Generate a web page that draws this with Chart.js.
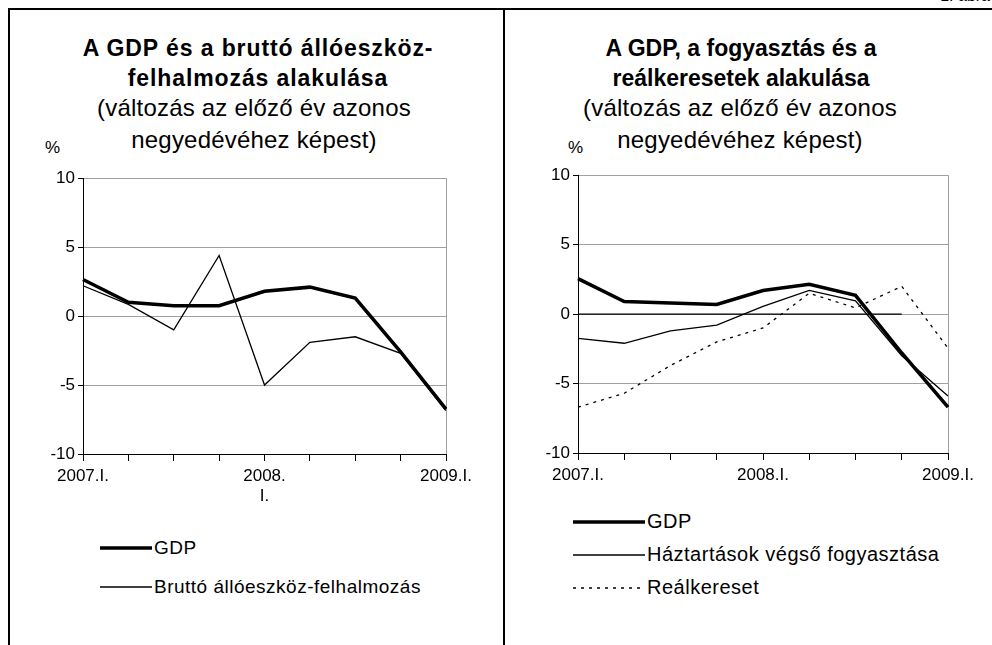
<!DOCTYPE html>
<html>
<head>
<meta charset="utf-8">
<script src="https://cdn.jsdelivr.net/npm/chart.js@4.4.0/dist/chart.umd.min.js"></script>
<style>
body{margin:0;width:992px;height:645px;overflow:hidden;background:#fff;position:relative;font-family:"Liberation Sans",Arial,sans-serif;color:#000}
.ln{position:absolute;background:#000}
.t{position:absolute;text-align:center;white-space:nowrap;line-height:28px}
.b{font-weight:bold;font-size:23px;letter-spacing:0.9px}
.r{font-size:24px;letter-spacing:0.2px}
.nar{letter-spacing:0}
.pct{position:absolute;font-size:17px}
canvas{position:absolute}
.leg{position:absolute;font-size:19px;letter-spacing:0.5px}
.leg div{display:flex;align-items:center}
.leg svg{margin-right:2px}
</style>
</head>
<body>
<div class="ln" style="left:8px;top:8px;width:984px;height:2px"></div>
<div class="ln" style="left:8px;top:8px;width:2px;height:637px"></div>
<div class="ln" style="left:503px;top:8px;width:2px;height:637px"></div>
<div style="position:absolute;right:2px;top:-13px;font-size:16px">1. ábra</div>

<div class="t b" style="left:58px;width:400px;top:34px">A GDP és a bruttó állóeszköz-</div>
<div class="t b" style="left:58px;width:400px;top:64px">felhalmozás alakulása</div>
<div class="t r" style="left:54px;width:400px;top:94px">(változás az előző év azonos</div>
<div class="t r" style="left:54px;width:400px;top:126px">negyedévéhez képest)</div>
<div class="pct" style="left:45px;top:138px">%</div>

<div class="t b nar" style="left:541px;width:400px;top:34px">A GDP, a fogyasztás és a</div>
<div class="t b nar" style="left:541px;width:400px;top:64px">reálkeresetek alakulása</div>
<div class="t r" style="left:540px;width:400px;top:94px">(változás az előző év azonos</div>
<div class="t r" style="left:540px;width:400px;top:126px">negyedévéhez képest)</div>
<div class="pct" style="left:568px;top:138px">%</div>

<canvas id="c1" width="456" height="339" style="left:30px;top:165px"></canvas>
<canvas id="c2" width="463" height="341" style="left:525px;top:162px"></canvas>
<div class="leg" id="leg1" style="left:100px;top:528px"></div>
<div class="leg" id="leg2" style="left:573px;top:505px;font-size:20px"></div>

<script>
// negyedévek
var quarters = ['2007.I.','2007.II.','2007.III.','2007.IV.','2008.I.','2008.II.','2008.III.','2008.IV.','2009.I.'];
var leftTicks = ['2007.I.','','','',['2008.','I.'],'','','','2009.I.'];
var rightTicks = ['2007.I.','','','','2008.I.','','','','2009.I.'];

// bal ábra
var gdp1 = [2.65, 1.0, 0.75, 0.75, 1.8, 2.1, 1.3, -2.6, -6.75];
var beruhazas = [2.2, 0.85, -1.0, 4.4, -5.0, -1.9, -1.5, -2.7, -6.85];

// jobb ábra
var gdp2 = [2.55, 0.9, 0.8, 0.7, 1.7, 2.15, 1.35, -2.8, -6.7];
var fogyasztas = [-1.75, -2.1, -1.2, -0.8, 0.55, 1.7, 0.95, -3.0, -5.9];
var kereset = [-6.7, -5.7, -3.7, -2.0, -1.0, 1.5, 0.45, 2.0, -2.45];
var nulla = [0, 0, 0, 0, 0, 0, 0, 0, null];

var FONT = '"Liberation Sans", Arial, sans-serif';

function makeOptions(tickLabels, yWidth){
	return {
		responsive: false,
		animation: false,
		layout: {padding: {top: 12, right: 40, left: 0, bottom: 0}},
		plugins: {legend: {display: false}, tooltip: {enabled: false}},
		elements: {point: {radius: 0}, line: {tension: 0}},
		scales: {
			x: {
				grid: {
					color: function(c){ return c.index === 8 ? '#a0a0a0' : 'rgba(0,0,0,0)'; },
					tickColor: '#000', tickLength: 7, lineWidth: 1
				},
				border: {color: '#000', width: 1},
				ticks: {
					autoSkip: false, maxRotation: 0, color: '#000', padding: 5,
					font: {family: FONT, size: 17},
					callback: function(v, i){ return tickLabels[i]; }
				},
				afterFit: function(s){ s.height = 50; }
			},
			y: {
				min: -10, max: 10,
				grid: {color: '#a0a0a0', tickColor: '#000', tickLength: 5},
				border: {color: '#000', width: 1},
				ticks: {stepSize: 5, color: '#000', padding: 3, font: {family: FONT, size: 17}},
				afterFit: function(s){ s.width = yWidth; }
			}
		}
	};
}

function legend(el, chart, w, rowH){
	var html = '';
	chart.data.datasets.forEach(function(ds){
		if (!ds.label) return;
		var dash = ds.borderDash ? 'stroke-dasharray="' + ds.borderDash.join(',') + '"' : '';
		html += '<div style="height:' + rowH + 'px"><svg width="' + w + '" height="10"><line x1="0" y1="5" x2="' + w + '" y2="5" stroke="#000" stroke-width="' + ds.borderWidth + '" ' + dash + '/></svg>' + ds.label + '</div>';
	});
	el.innerHTML = html;
}

var chart1 = new Chart(document.getElementById('c1'), {
	type: 'line',
	data: {
		labels: quarters,
		datasets: [
			{label: 'GDP', data: gdp1, borderColor: '#000', borderWidth: 3.5},
			{label: 'Bruttó állóeszköz-felhalmozás', data: beruhazas, borderColor: '#000', borderWidth: 1.3}
		]
	},
	options: makeOptions(leftTicks, 53)
});

var chart2 = new Chart(document.getElementById('c2'), {
	type: 'line',
	data: {
		labels: quarters,
		datasets: [
			{label: '', data: nulla, borderColor: '#000', borderWidth: 1.3},
			{label: 'GDP', data: gdp2, borderColor: '#000', borderWidth: 3.5},
			{label: 'Háztartások végső fogyasztása', data: fogyasztas, borderColor: '#000', borderWidth: 1.3},
			{label: 'Reálkereset', data: kereset, borderColor: '#000', borderWidth: 1.3, borderDash: [3, 5]}
		]
	},
	options: makeOptions(rightTicks, 53)
});

legend(document.getElementById('leg1'), chart1, 52, 39);
legend(document.getElementById('leg2'), chart2, 72, 33);
</script>
</body>
</html>
